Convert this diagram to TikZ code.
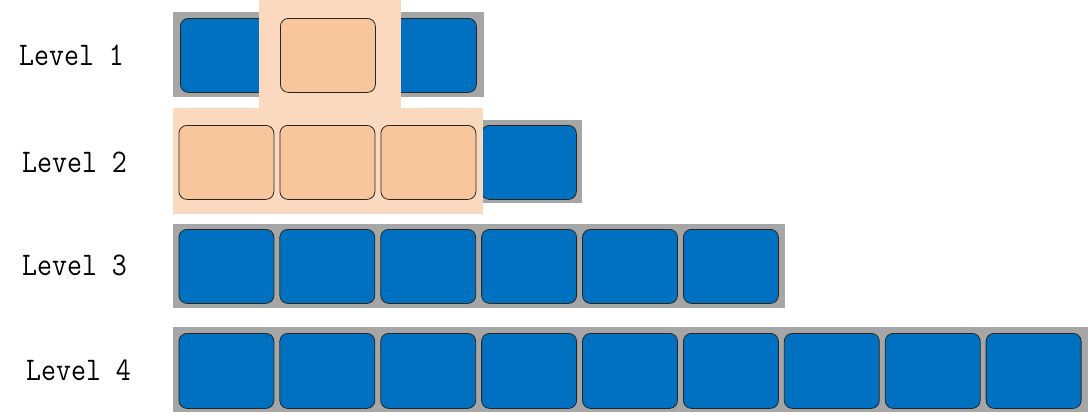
\documentclass[tikz,border=0pt]{standalone}
\usepackage{fontspec}
\newfontfamily\lvlfont{Latin Modern Mono}[FakeStretch=0.88]
\definecolor{barGrey}{RGB}{166,166,166}
\definecolor{cellBlue}{RGB}{0,112,192}
\definecolor{cellOrange}{RGB}{248,198,157}
\definecolor{hiOrange}{RGB}{250,217,190}
\tikzset{
  bar/.style={fill=barGrey,draw=none},
  hilite/.style={fill=hiOrange,draw=none},
  cell/.style={rectangle,rounded corners=8pt,draw=black!85,line width=0.8pt,minimum width=95pt,minimum height=74pt,inner sep=0pt,anchor=north west},
  bluecell/.style={cell,fill=cellBlue},
  orangecell/.style={cell,fill=cellOrange},
  lvl/.style={font=\fontsize{33}{33}\lvlfont,anchor=base west,inner sep=0pt}
}
\begin{document}
\begin{tikzpicture}[x=1pt,y=-1pt]
\useasboundingbox (0,0) rectangle (1092,413);
% grey bars
\fill[bar] (173,12) rectangle (484,97);
\fill[bar] (173,120) rectangle (582,203);
\fill[bar] (173,224) rectangle (785,308);
\fill[bar] (173,327) rectangle (1088,412);
% level 1 blue cells
\node[bluecell] (a1) at (180,18) {};
\node[bluecell] (a3) at (381,18) {};
% level 2 blue cell
\node[bluecell] (b4) at (481,125) {};
% level 3
\foreach \i in {1,...,6} {
  \node[bluecell] (c\i) at ({178.5+100.9*(\i-1)},229) {};
}
% level 4
\foreach \i in {1,...,9} {
  \node[bluecell,minimum height=75pt] (d\i) at ({178.5+100.9*(\i-1)},333) {};
}
% highlights
\fill[hilite] (259,0) rectangle (401,108);
\fill[hilite] (173,108) rectangle (483,214);
% orange cells
\node[orangecell] (a2) at (280,18) {};
\node[orangecell] (b1) at (178.5,125) {};
\node[orangecell] (b2) at (279.5,125) {};
\node[orangecell] (b3) at (380.5,125) {};
% labels
\node[lvl] (l1) at (19,65) {Level 1};
\node[lvl] (l2) at (22,172) {Level 2};
\node[lvl] (l3) at (22,275) {Level 3};
\node[lvl] (l4) at (26,380) {Level 4};
\end{tikzpicture}
\end{document}
